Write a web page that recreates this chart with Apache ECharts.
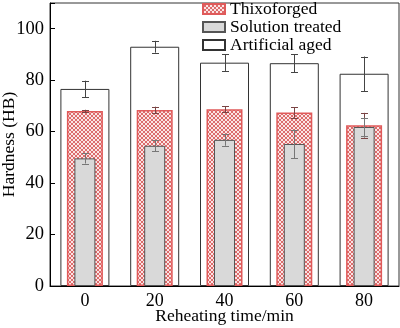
<!DOCTYPE html>
<html><head><meta charset="utf-8">
<script src="https://cdn.jsdelivr.net/npm/echarts@6/dist/echarts.min.js"></script>
<style>html,body{margin:0;padding:0;background:#fff}#c{width:400px;height:328px}</style>
</head><body><div id="c"></div>
<script>
const categories = ['0', '20', '40', '60', '80'];
const thixoforged = [68.0, 68.4, 68.7, 67.4, 62.5];
const thixoforgedErr = [0.5, 1.3, 1.2, 2.0, 4.8];
const solutionTreated = [49.6, 54.5, 56.8, 55.2, 61.8];
const solutionTreatedErr = [2.0, 2.2, 2.3, 5.6, 3.6];
const artificialAged = [76.6, 93.0, 86.8, 86.6, 82.5];
const artificialAgedErr = [3.2, 2.3, 3.2, 3.5, 6.7];
const yTicks = [0, 20, 40, 60, 80, 100];

const FONT = '"Liberation Serif", "DejaVu Serif", serif';

// crosshatch pattern
const pc = document.createElement('canvas');
pc.width = 4; pc.height = 4;
const pctx = pc.getContext('2d');
pctx.fillStyle = '#fbe4e4';
pctx.fillRect(0, 0, 4, 4);
pctx.fillStyle = '#dc6c6c';
[[0,0],[1,1],[2,2],[3,3],[0,3],[1,2],[2,1],[3,0]].forEach(p => pctx.fillRect(p[0], p[1], 1, 1));
const hatch = {image: pc, repeat: 'repeat'};

function errSeries(name, vals, errs, axisIndex, color, z) {
  return {
    type: 'custom', name: name + ' err', xAxisIndex: axisIndex, z: z, silent: true,
    encode: {x: 0, y: 1},
    data: vals.map((v, i) => [i, v, errs[i]]),
    renderItem: function (params, api) {
      const x = api.value(0), v = api.value(1), e = api.value(2);
      const t = api.coord([x, v + e]);
      const b = api.coord([x, v - e]);
      const cx = Math.round(t[0]) + 0.5;
      const hw = 3.5;
      const st = {stroke: color, lineWidth: 1};
      return {type: 'group', children: [
        {type: 'line', shape: {x1: cx, y1: t[1], x2: cx, y2: b[1]}, style: st},
        {type: 'line', shape: {x1: cx - hw, y1: Math.round(t[1]) + 0.5, x2: cx + hw, y2: Math.round(t[1]) + 0.5}, style: st},
        {type: 'line', shape: {x1: cx - hw, y1: Math.round(b[1]) + 0.5, x2: cx + hw, y2: Math.round(b[1]) + 0.5}, style: st}
      ]};
    }
  };
}

const chart = echarts.init(document.getElementById('c'), null, {renderer: 'canvas'});
const xBase = {
  type: 'category', data: categories, boundaryGap: true,
  axisTick: {show: false},
  axisLine: {show: true, lineStyle: {color: '#000', width: 1}},
};
chart.setOption({
  animation: false,
  backgroundColor: '#fff',
  textStyle: {fontFamily: FONT},
  grid: {left: 50, right: 1, top: 3, bottom: 42, show: true, borderColor: '#333', borderWidth: 1,
    containLabel: false, outerBoundsMode: 'none'},
  legend: {
    orient: 'vertical', left: 202, top: 0, padding: 0, itemWidth: 22, itemHeight: 10, itemGap: 0,
    textStyle: {fontFamily: FONT, fontSize: 17.5, color: '#000', lineHeight: 18},
    data: [
      {name: 'Thixoforged', icon: 'rect'},
      {name: 'Solution treated', icon: 'rect'},
      {name: 'Artificial aged', icon: 'rect'}
    ]
  },
  xAxis: [
    Object.assign({}, xBase, {
      name: 'Reheating time/min', nameLocation: 'middle', nameGap: 21, nameMoveOverlap: false,
      nameTextStyle: {fontFamily: FONT, fontSize: 17.5, color: '#000'},
      axisLabel: {fontFamily: FONT, fontSize: 18, color: '#000', margin: 6}
    }),
    Object.assign({}, xBase, {show: false}),
    Object.assign({}, xBase, {show: false})
  ],
  yAxis: {
    type: 'value', min: 0, max: 110, interval: 20,
    name: 'Hardness (HB)', nameLocation: 'middle', nameGap: 32, nameRotate: 90, nameMoveOverlap: false,
    nameTextStyle: {fontFamily: FONT, fontSize: 17.5, color: '#000'},
    axisLine: {show: true, lineStyle: {color: '#000', width: 1}},
    axisTick: {show: true, inside: true, length: 5, lineStyle: {color: '#000'}},
    splitLine: {show: false},
    axisLabel: {fontFamily: FONT, fontSize: 18.5, color: '#000', margin: 6,
      formatter: v => yTicks.indexOf(v) >= 0 ? String(v) : ''}
  },
  series: [
    {type: 'bar', name: 'Artificial aged', xAxisIndex: 0, data: artificialAged, barWidth: 49, z: 2,
      itemStyle: {color: '#fff', borderColor: '#333', borderWidth: 1}},
    {type: 'bar', name: 'Thixoforged', xAxisIndex: 1, data: thixoforged, barWidth: 36, z: 3,
      itemStyle: {color: hatch, borderColor: '#e05a5a', borderWidth: 1.5}},
    {type: 'bar', name: 'Solution treated', xAxisIndex: 2, data: solutionTreated, barWidth: 21, z: 4,
      itemStyle: {color: '#d9d9d9', borderColor: '#555', borderWidth: 1}},
    errSeries('Artificial aged', artificialAged, artificialAgedErr, 0, '#444', 5),
    errSeries('Thixoforged', thixoforged, thixoforgedErr, 1, '#7a4444', 6),
    errSeries('Solution treated', solutionTreated, solutionTreatedErr, 2, '#777', 7)
  ]
});
</script></body></html>
